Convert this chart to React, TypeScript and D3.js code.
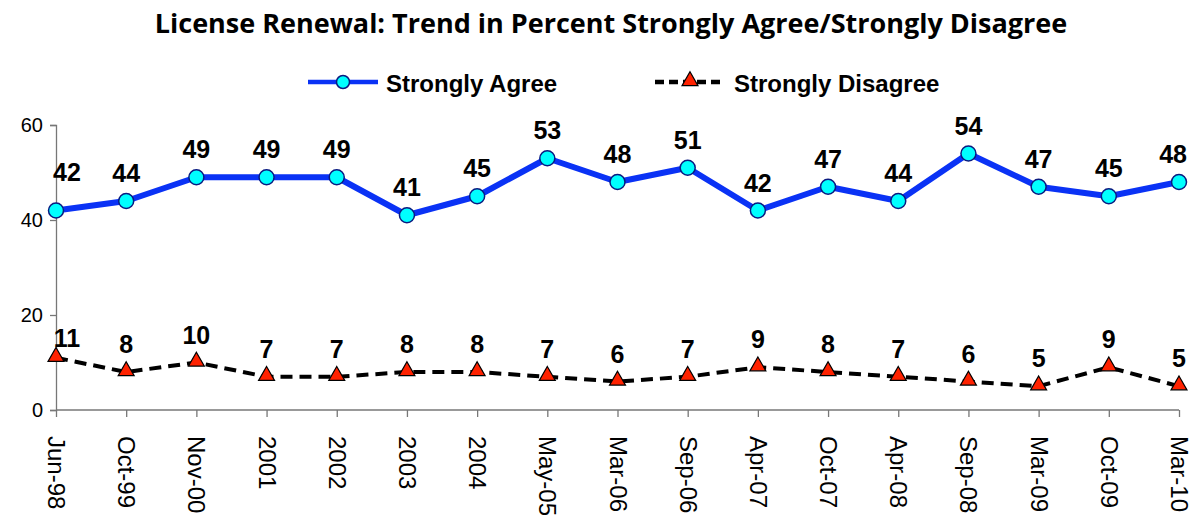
import React, { useRef, useEffect } from 'react';
import * as d3 from 'd3';

const periods = ['Jun-98', 'Oct-99', 'Nov-00', '2001', '2002', '2003', '2004', 'May-05', 'Mar-06', 'Sep-06', 'Apr-07', 'Oct-07', 'Apr-08', 'Sep-08', 'Mar-09', 'Oct-09', 'Mar-10'];
const stronglyAgree = [42, 44, 49, 49, 49, 41, 45, 53, 48, 51, 42, 47, 44, 54, 47, 45, 48];
const stronglyDisagree = [11, 8, 10, 7, 7, 8, 8, 7, 6, 7, 9, 8, 7, 6, 5, 9, 5];
const yTicks = [0, 20, 40, 60];

const width = 1189;
const height = 521;
const margin = { top: 125, right: 10, bottom: 111, left: 56 };
const labelFont = 25;

const App = () => {
  const svgRef = useRef<SVGSVGElement>(null);

  useEffect(() => {
    const svg = d3.select(svgRef.current);
    svg.selectAll('*').remove();

    const x = d3.scalePoint<string>()
      .domain(periods)
      .range([margin.left, width - margin.right]);

    const y = d3.scaleLinear()
      .domain([0, 60])
      .range([height - margin.bottom, margin.top]);

    // title
    svg.append('text')
      .attr('x', 611)
      .attr('y', 33)
      .attr('text-anchor', 'middle')
      .style('font-family', '"Open Sans", sans-serif')
      .style('font-weight', 'bold')
      .style('font-size', '27px')
      .text('License Renewal: Trend in Percent Strongly Agree/Strongly Disagree');

    // y axis
    const yAxis = d3.axisLeft(y).tickValues(yTicks).tickSize(6).tickPadding(7);
    const gy = svg.append('g')
      .attr('transform', `translate(${margin.left},0)`)
      .call(yAxis);
    gy.selectAll('path, line').attr('stroke', '#777').attr('stroke-width', 1.3);
    gy.selectAll('text')
      .style('font-family', '"Liberation Sans", Arial, sans-serif')
      .style('font-size', '20px')
      .attr('fill', '#000');

    // x axis
    const xAxis = d3.axisBottom(x).tickSize(7).tickSizeOuter(0);
    const gx = svg.append('g')
      .attr('transform', `translate(0,${height - margin.bottom})`)
      .call(xAxis);
    gx.selectAll('path, line').attr('stroke', '#777').attr('stroke-width', 1.3);
    gx.select('.domain').attr('d', `M${margin.left},0H${width - margin.right}`);
    gx.selectAll('text')
      .style('font-family', '"Liberation Sans", Arial, sans-serif')
      .style('font-size', '24px')
      .attr('fill', '#000')
      .attr('text-anchor', 'start')
      .attr('dy', null)
      .attr('y', 0)
      .attr('transform', 'translate(-8.5,26) rotate(90)');

    const line = d3.line<number>()
      .x((_, i) => x(periods[i]) as number)
      .y((d) => y(d));

    svg.append('path')
      .datum(stronglyAgree)
      .attr('fill', 'none')
      .attr('stroke', '#0a32f5')
      .attr('stroke-width', 6)
      .attr('stroke-linejoin', 'round')
      .attr('d', line);

    svg.append('path')
      .datum(stronglyDisagree)
      .attr('fill', 'none')
      .attr('stroke', '#000')
      .attr('stroke-width', 4)
      .attr('stroke-dasharray', '12,7')
      .attr('d', line);

    svg.append('g')
      .selectAll('circle')
      .data(stronglyAgree)
      .join('circle')
      .attr('cx', (_, i) => x(periods[i]) as number)
      .attr('cy', (d) => y(d))
      .attr('r', 7.5)
      .attr('fill', '#00ffff')
      .attr('stroke', '#0a1a80')
      .attr('stroke-width', 1.5);

    const tri = d3.symbol().type(d3.symbolTriangle).size(110);
    svg.append('g')
      .selectAll('path')
      .data(stronglyDisagree)
      .join('path')
      .attr('d', tri)
      .attr('transform', (d, i) => `translate(${x(periods[i])},${y(d) - 1})`)
      .attr('fill', '#ff2200')
      .attr('stroke', '#000')
      .attr('stroke-width', 1.2);

    // data labels, kept inside the chart like Excel does
    const labelX = (i: number, v: number) => {
      const px = x(periods[i]) as number;
      const half = (String(v).length * 0.556 * labelFont) / 2;
      return Math.min(Math.max(px, 53 + half), width - 2 - half);
    };
    const addLabels = (vals: number[], off: number[]) => {
      svg.append('g')
        .selectAll('text')
        .data(vals)
        .join('text')
        .attr('x', (d, i) => labelX(i, d))
        .attr('y', (d, i) => y(d) - off[i])
        .attr('text-anchor', 'middle')
        .style('font-family', '"Liberation Sans", Arial, sans-serif')
        .style('font-weight', 'bold')
        .style('font-size', `${labelFont}px`)
        .text((d) => d);
    };
    addLabels(stronglyAgree, stronglyAgree.map((_, i) => (i === 0 ? 30 : 19)));
    addLabels(stronglyDisagree, stronglyDisagree.map((_, i) => (i === 0 ? 11 : 19)));

    // legend
    const leg = svg.append('g');
    leg.append('line')
      .attr('x1', 308).attr('x2', 378).attr('y1', 82).attr('y2', 82)
      .attr('stroke', '#0a32f5').attr('stroke-width', 4.5);
    leg.append('circle')
      .attr('cx', 343).attr('cy', 82).attr('r', 6.5)
      .attr('fill', '#00ffff').attr('stroke', '#0a1a80').attr('stroke-width', 1.5);
    leg.append('text')
      .attr('x', 386).attr('y', 92)
      .style('font-family', '"Liberation Sans", Arial, sans-serif')
      .style('font-weight', 'bold')
      .style('font-size', '24px')
      .text('Strongly Agree');

    leg.append('line')
      .attr('x1', 655).attr('x2', 723).attr('y1', 82).attr('y2', 82)
      .attr('stroke', '#000').attr('stroke-width', 4.5)
      .attr('stroke-dasharray', '9,5');
    leg.append('path')
      .attr('d', tri)
      .attr('transform', 'translate(690,81)')
      .attr('fill', '#ff2200').attr('stroke', '#000').attr('stroke-width', 1.2);
    leg.append('text')
      .attr('x', 734).attr('y', 92)
      .style('font-family', '"Liberation Sans", Arial, sans-serif')
      .style('font-weight', 'bold')
      .style('font-size', '24px')
      .text('Strongly Disagree');
  }, []);

  return (
    <svg
      ref={svgRef}
      width={width}
      height={height}
      style={{ position: 'absolute', left: 0, top: 0, background: '#fff' }}
    ></svg>
  );
};

export default App;
